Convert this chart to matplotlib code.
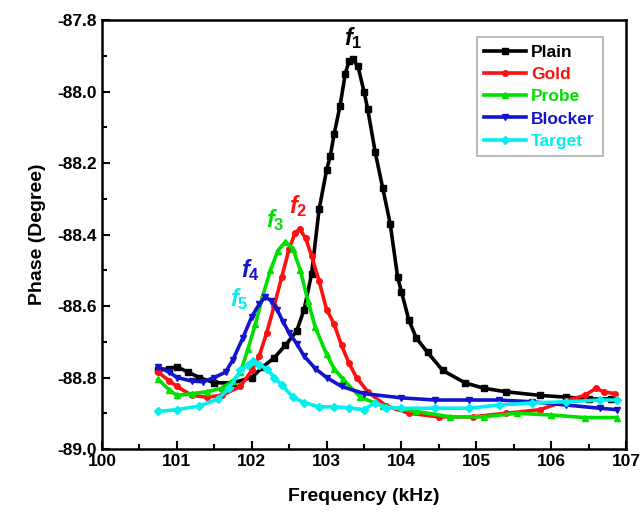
import matplotlib
matplotlib.use("Agg")
import matplotlib.pyplot as plt
from matplotlib.ticker import MultipleLocator

plt.rcParams['font.family'] = ['Liberation Sans', 'DejaVu Sans']
plt.rcParams['font.weight'] = 'bold'
plt.rcParams['mathtext.fontset'] = 'custom'
plt.rcParams['mathtext.it'] = 'Liberation Sans:bold:italic'
plt.rcParams['mathtext.rm'] = 'Liberation Sans:bold'

plain_f = [100.75, 100.9, 101.0, 101.15, 101.3, 101.5, 101.75, 102.0, 102.15, 102.3,
           102.45, 102.6, 102.7, 102.8, 102.9, 103.0, 103.05, 103.1, 103.18, 103.25,
           103.3, 103.35, 103.42, 103.5, 103.55, 103.65, 103.75, 103.85, 103.95, 104.0,
           104.1, 104.2, 104.35, 104.55, 104.85, 105.1, 105.4, 105.85, 106.2, 106.5, 106.8]
plain_v = [-88.78, -88.775, -88.77, -88.785, -88.80, -88.815, -88.815, -88.80, -88.77, -88.745,
           -88.71, -88.67, -88.61, -88.51, -88.33, -88.22, -88.18, -88.12, -88.04, -87.95,
           -87.915, -87.91, -87.93, -88.0, -88.05, -88.17, -88.27, -88.37, -88.52, -88.56,
           -88.64, -88.69, -88.73, -88.78, -88.815, -88.83, -88.84, -88.85, -88.855, -88.86, -88.86]

gold_f = [100.75, 100.9, 101.0, 101.2, 101.4, 101.6, 101.85, 102.0, 102.1, 102.2,
          102.3, 102.4, 102.5, 102.58, 102.64, 102.72, 102.8, 102.9, 103.0, 103.1,
          103.2, 103.3, 103.4, 103.55, 103.8, 104.1, 104.5, 104.95, 105.4, 105.85,
          106.2, 106.45, 106.6, 106.7, 106.85]
gold_v = [-88.785, -88.81, -88.825, -88.85, -88.855, -88.85, -88.825, -88.78, -88.74, -88.675,
          -88.6, -88.52, -88.44, -88.395, -88.385, -88.41, -88.46, -88.53, -88.61, -88.65,
          -88.71, -88.76, -88.80, -88.84, -88.88, -88.90, -88.91, -88.91, -88.90, -88.89,
          -88.865, -88.85, -88.83, -88.84, -88.845]

probe_f = [100.75, 100.9, 101.0, 101.2, 101.4, 101.6, 101.75, 101.85, 101.95, 102.05,
           102.15, 102.25, 102.35, 102.45, 102.55, 102.65, 102.75, 102.85, 103.0, 103.1,
           103.22, 103.45, 103.75, 104.2, 104.65, 105.1, 105.55, 106.0, 106.45, 106.88]
probe_v = [-88.805, -88.835, -88.85, -88.845, -88.84, -88.83, -88.81, -88.785, -88.72, -88.65,
           -88.57, -88.5, -88.445, -88.42, -88.44, -88.50, -88.585, -88.66, -88.735, -88.775,
           -88.805, -88.855, -88.88, -88.895, -88.91, -88.91, -88.90, -88.905, -88.912, -88.912]

blocker_f = [100.75, 100.9, 101.0, 101.2, 101.35, 101.5, 101.65, 101.75, 101.88, 102.0,
             102.1, 102.18, 102.26, 102.34, 102.42, 102.5, 102.6, 102.7, 102.85, 103.0,
             103.2, 103.5, 104.0, 104.45, 104.9, 105.3, 105.75, 106.2, 106.65, 106.88]
blocker_v = [-88.77, -88.785, -88.80, -88.81, -88.812, -88.80, -88.785, -88.75, -88.69, -88.63,
             -88.595, -88.575, -88.585, -88.61, -88.645, -88.675, -88.705, -88.74, -88.775, -88.80,
             -88.825, -88.845, -88.857, -88.863, -88.863, -88.863, -88.868, -88.877, -88.886, -88.89]

target_f = [100.75, 101.0, 101.3, 101.55, 101.7, 101.85, 101.95, 102.02, 102.1, 102.2,
            102.3, 102.4, 102.55, 102.7, 102.9, 103.1, 103.3, 103.5, 103.65, 103.8,
            104.0, 104.45, 104.9, 105.3, 105.75, 106.2, 106.65, 106.88]
target_v = [-88.895, -88.89, -88.88, -88.86, -88.83, -88.78, -88.765, -88.755, -88.765, -88.775,
            -88.80, -88.82, -88.855, -88.87, -88.882, -88.882, -88.885, -88.89, -88.87, -88.885,
            -88.886, -88.886, -88.886, -88.877, -88.871, -88.868, -88.863, -88.863]

series = [
    ("Plain", plain_f, plain_v, "#000000", "s"),
    ("Gold", gold_f, gold_v, "#ff1010", "o"),
    ("Probe", probe_f, probe_v, "#00e000", "^"),
    ("Blocker", blocker_f, blocker_v, "#1414cc", "v"),
    ("Target", target_f, target_v, "#00f0f0", "D"),
]

peak_labels = [("1", 103.36, -87.85, "#000000"),
               ("2", 102.62, -88.32, "#ff1010"),
               ("3", 102.31, -88.36, "#00e000"),
               ("4", 101.98, -88.50, "#1414cc"),
               ("5", 101.84, -88.58, "#00f0f0")]

fig = plt.figure(figsize=(6.44, 5.16), dpi=100)
ax = fig.add_axes([102/644, 1-449/516, (626-102)/644, (449-20)/516])

for name, f, v, c, m in series:
    ax.plot(f, v, color=c, marker=m, markersize=4, lw=2.6, label=name)

for num, x, y, c in peak_labels:
    ax.text(x, y, r'$f_{\mathit{%s}}$' % num, color=c, fontsize=17, ha='center', va='center')

ax.set_xlim(100, 107)
ax.set_ylim(-89.0, -87.8)
ax.xaxis.set_major_locator(MultipleLocator(1))
ax.xaxis.set_minor_locator(MultipleLocator(0.5))
ax.yaxis.set_major_locator(MultipleLocator(0.2))
ax.yaxis.set_minor_locator(MultipleLocator(0.1))
ax.yaxis.set_major_formatter(matplotlib.ticker.FormatStrFormatter('%.1f'))
ax.tick_params(which='both', direction='in', top=False, right=False, labelsize=12.5, width=1.5)
ax.tick_params(which='major', length=6)
ax.tick_params(which='minor', length=3.5)
for s in ax.spines.values():
    s.set_linewidth(1.8)

ax.set_xlabel("Frequency (kHz)", fontsize=14, fontweight='bold', labelpad=14)
ax.set_ylabel("Phase (Degree)", fontsize=14, fontweight='bold', labelpad=8)

leg = ax.legend(loc='upper right', bbox_to_anchor=(0.972, 0.98), fontsize=12.5,
                frameon=True, fancybox=False, edgecolor='#999999', handlelength=2.4,
                handletextpad=0.3, borderpad=0.45, labelspacing=0.4)
leg.get_frame().set_linewidth(1.2)
for t, (_, _, _, c, _) in zip(leg.get_texts(), series):
    t.set_color(c)
    t.set_fontweight('bold')

fig.savefig("out.png", dpi=100)
